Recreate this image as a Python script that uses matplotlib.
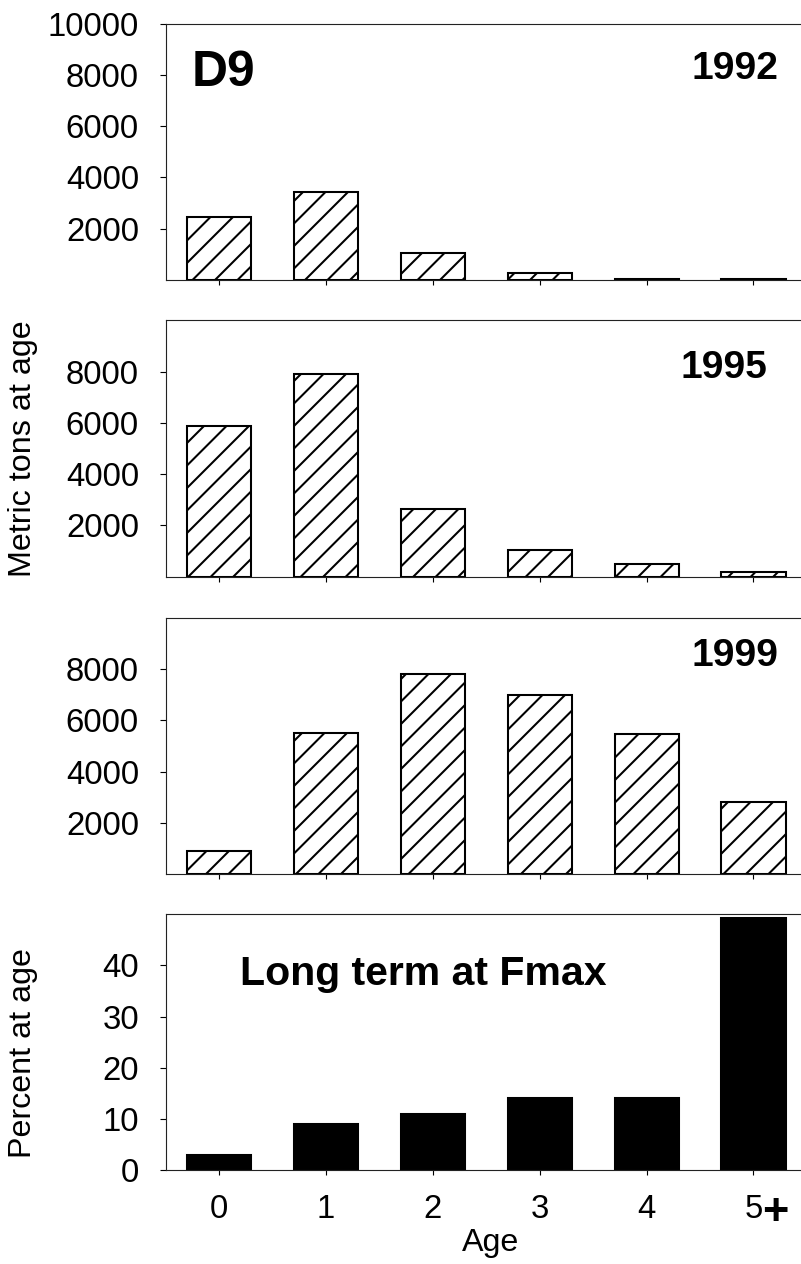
import matplotlib
matplotlib.use("Agg")
import matplotlib.pyplot as plt

plt.rcParams['font.family'] = ['Liberation Sans', 'DejaVu Sans']
plt.rcParams['hatch.linewidth'] = 1.1
plt.rcParams['hatch.color'] = 'black'

ages = [0, 1, 2, 3, 4, 5]
age_labels = ['0', '1', '2', '3', '4', '5']

tons_1992 = [2450, 3450, 1070, 260, 40, 40]
tons_1995 = [5880, 7900, 2640, 1030, 500, 170]
tons_1999 = [900, 5520, 7800, 6980, 5450, 2820]
pct_fmax = [3.0, 9.0, 11.0, 14.1, 14.1, 49.3]

DPI = 135
fig = plt.figure(figsize=(801 / DPI, 1264 / DPI), dpi=DPI)

left, width, h = 0.2067, 0.8007, 0.2028
bottoms = [0.7785, 0.5437, 0.3085, 0.0741]
axes = [fig.add_axes((left, b, width, h)) for b in bottoms]


def style(ax, ymax, yticks):
    ax.set_xlim(-0.5, 5.5)
    ax.set_ylim(0, ymax)
    ax.set_yticks(yticks)
    ax.set_xticks(ages)
    ax.spines['right'].set_visible(False)
    for s in ['left', 'bottom', 'top']:
        ax.spines[s].set_linewidth(0.6)
        ax.spines[s].set_color('#222222')
    ax.tick_params(axis='y', direction='out', length=3.2, width=0.6,
                   pad=11, labelsize=17.5)
    ax.tick_params(axis='x', direction='out', length=2.7, width=0.6,
                   pad=10, labelsize=17.5)


tons = [tons_1992, tons_1995, tons_1999]
years = ['1992', '1995', '1999']
year_pos = [(0.955, 0.892), (0.939, 0.886), (0.955, 0.9205)]
for ax, vals, yr, pos, i in zip(axes[:3], tons, years, year_pos, range(3)):
    ax.bar(ages, vals, width=0.6, color='white', edgecolor='black',
           linewidth=1.1, hatch='//')
    ticks = [2000, 4000, 6000, 8000] + ([10000] if i == 0 else [])
    style(ax, 10000, ticks)
    ax.set_xticklabels([])
    ax.text(pos[0], pos[1], yr, transform=ax.transAxes, ha='right', va='top',
            fontsize=20.8, fontweight='bold')

axes[0].text(0.0405, 0.898, 'D9', transform=axes[0].transAxes, ha='left',
             va='top', fontsize=26.5, fontweight='bold')
axes[1].set_ylabel('Metric tons at age', fontsize=17.2)
axes[1].yaxis.set_label_coords(-0.1985, 0.5)

ax = axes[3]
ax.bar(ages, pct_fmax, width=0.6, color='black', edgecolor='black',
       linewidth=1.1)
style(ax, 50, [0, 10, 20, 30, 40])
ax.set_xticklabels(age_labels)
ax.text(0.950, -0.1666, '+', transform=ax.transAxes, ha='center',
        va='center', fontsize=24, fontweight='bold')
ax.text(0.116, 0.840, 'Long term at Fmax', transform=ax.transAxes,
        ha='left', va='top', fontsize=21.9, fontweight='bold')
ax.set_ylabel('Percent at age', fontsize=17.2)
ax.yaxis.set_label_coords(-0.1985, 0.458)
ax.set_xlabel('Age', fontsize=17.2, va='top')
ax.xaxis.set_label_coords(0.506, -0.225)

fig.savefig('out.png', dpi=DPI)
